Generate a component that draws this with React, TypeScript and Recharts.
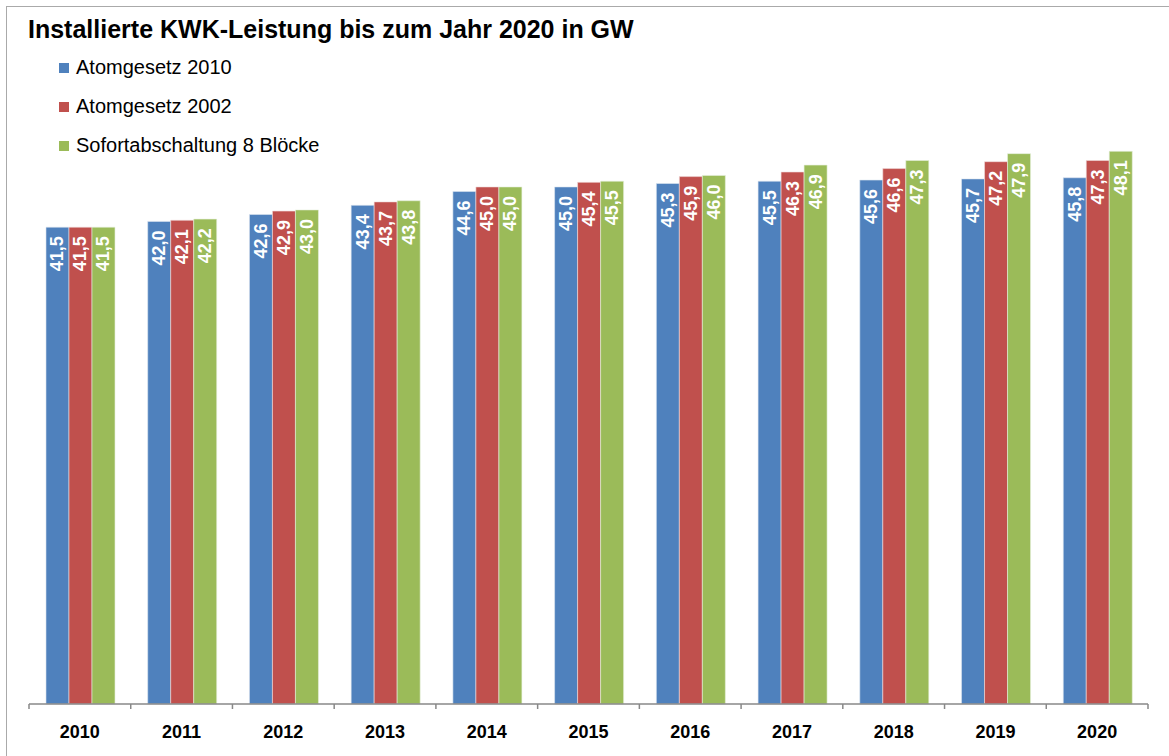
import React from 'react';
import { BarChart, Bar, XAxis, YAxis, LabelList } from 'recharts';

const years = ['2010', '2011', '2012', '2013', '2014', '2015', '2016', '2017', '2018', '2019', '2020'];
const atom2010 = [41.5, 42.0, 42.6, 43.4, 44.6, 45.0, 45.3, 45.5, 45.6, 45.7, 45.8];
const atom2002 = [41.5, 42.1, 42.9, 43.7, 45.0, 45.4, 45.9, 46.3, 46.6, 47.2, 47.3];
const sofort = [41.5, 42.2, 43.0, 43.8, 45.0, 45.5, 46.0, 46.9, 47.3, 47.9, 48.1];

const seriesNames = ['Atomgesetz 2010', 'Atomgesetz 2002', 'Sofortabschaltung 8 Blöcke'];
const colors = ['#4F81BD', '#C0504D', '#9BBB59'];

const chartData = years.map((year, i) => ({
  year,
  a2010: atom2010[i],
  a2002: atom2002[i],
  sofort: sofort[i],
}));

const W = 1169;
const H = 756;
const LEFT = 29;
const RIGHT = 21;
const BAND = (W - LEFT - RIGHT) / years.length;
const FONT = 'Liberation Sans, Arial, Helvetica, sans-serif';

const fmt = (v: number) => v.toFixed(1).replace('.', ',');

// rotated white label inside the top of each bar
const ValueLabel = (props: any) => {
  const { x, y, width, value } = props;
  const cx = x + width / 2;
  const ty = y + 9;
  return (
    <g transform={`translate(${cx} ${ty}) rotate(-90)`}>
      <text
        x={0}
        y={0}
        textAnchor="end"
        dominantBaseline="central"
        fill="#fff"
        fontSize={18}
        fontWeight="bold"
        fontFamily={FONT}
      >
        {fmt(value)}
      </text>
    </g>
  );
};

const YearTick = (props: any) => {
  const { x, y, payload, index } = props;
  const left = x - BAND / 2;
  return (
    <g>
      <line x1={left} x2={left} y1={y - 8} y2={y - 3} stroke="#888" strokeWidth={1.5} />
      {index === years.length - 1 && (
        <line x1={x + BAND / 2} x2={x + BAND / 2} y1={y - 8} y2={y - 3} stroke="#888" strokeWidth={1.5} />
      )}
      <text x={x} y={y + 26} textAnchor="middle" fontSize={18} fontWeight="bold" fill="#000" fontFamily={FONT}>
        {payload.value}
      </text>
    </g>
  );
};

export default function App() {
  return (
    <div style={{ position: 'relative', width: W, height: H, overflow: 'hidden', background: '#fff' }}>
      <style>{`body{margin:0}`}</style>
      <div
        style={{
          position: 'absolute',
          left: 6,
          top: 6,
          width: W + 20,
          height: H + 20,
          border: '1.5px solid #aaa',
          boxSizing: 'border-box',
        }}
      />
      <BarChart
        width={W}
        height={H}
        data={chartData}
        margin={{ top: 129.5, right: RIGHT, bottom: 0, left: LEFT }}
        barCategoryGap="16.7%"
        barGap={0}
        style={{ position: 'absolute', left: 0, top: 0 }}
      >
        <XAxis
          dataKey="year"
          axisLine={{ stroke: '#888', strokeWidth: 1.5 }}
          tickLine={false}
          tick={<YearTick />}
          height={52}
          interval={0}
        />
        <YAxis hide domain={[0, 50]} width={0} />
        <Bar dataKey="a2010" name={seriesNames[0]} fill={colors[0]} stroke="#dde6f0" strokeWidth={0.6} isAnimationActive={false}>
          <LabelList dataKey="a2010" content={<ValueLabel />} />
        </Bar>
        <Bar dataKey="a2002" name={seriesNames[1]} fill={colors[1]} stroke="#f0dddd" strokeWidth={0.6} isAnimationActive={false}>
          <LabelList dataKey="a2002" content={<ValueLabel />} />
        </Bar>
        <Bar dataKey="sofort" name={seriesNames[2]} fill={colors[2]} stroke="#e6f0dd" strokeWidth={0.6} isAnimationActive={false}>
          <LabelList dataKey="sofort" content={<ValueLabel />} />
        </Bar>
      </BarChart>
      <div
        style={{
          position: 'absolute',
          left: 28,
          top: 15,
          fontFamily: FONT,
          fontSize: 25,
          fontWeight: 'bold',
          color: '#000',
          whiteSpace: 'nowrap',
        }}
      >
        Installierte KWK-Leistung bis zum Jahr 2020 in GW
      </div>
      <div style={{ position: 'absolute', left: 59, top: 48, fontFamily: FONT, fontSize: 20, color: '#000' }}>
        {seriesNames.map((name, i) => (
          <div key={name} style={{ display: 'flex', alignItems: 'center', height: 39 }}>
            <span style={{ width: 10, height: 10, background: colors[i], marginRight: 7, display: 'inline-block' }} />
            <span>{name}</span>
          </div>
        ))}
      </div>
    </div>
  );
}
